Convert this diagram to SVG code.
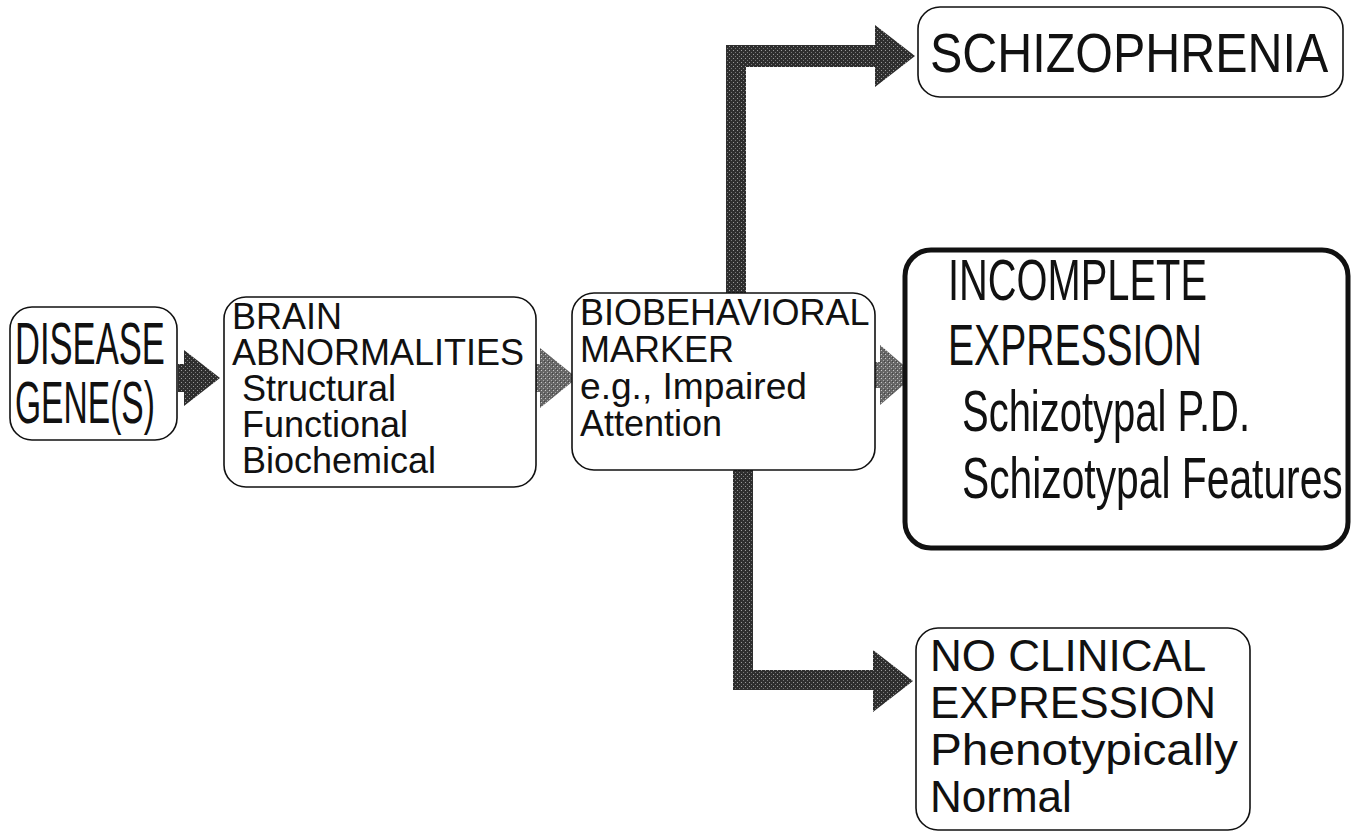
<svg xmlns="http://www.w3.org/2000/svg" width="1355" height="836" viewBox="0 0 1355 836">
  <style>
    .box { fill: #ffffff; stroke: #111; stroke-width: 1.6; }
    .thick { fill: #ffffff; stroke: #111; stroke-width: 5; }
    .t { font-family: "Liberation Sans", Arial, sans-serif; fill: #111; }
    .dark { fill: url(#ht); }
    .light { fill: url(#htl); }
  </style>
  <defs>
    <pattern id="ht" width="4" height="4" patternUnits="userSpaceOnUse">
      <rect width="4" height="4" fill="#2e2e2e"/>
      <rect x="1" y="2" width="1" height="1" fill="#9a9a9a"/>
      <rect x="3" y="0" width="1" height="1" fill="#777"/>
    </pattern>
    <pattern id="htl" width="4" height="4" patternUnits="userSpaceOnUse">
      <rect width="4" height="4" fill="#666"/>
      <rect x="1" y="2" width="1" height="1" fill="#c8c8c8"/>
      <rect x="3" y="0" width="1" height="1" fill="#aaa"/>
      <rect x="0" y="1" width="1" height="1" fill="#444"/>
    </pattern>
  </defs>

  <g id="connectors">
    <!-- disease -> brain -->
    <path class="dark" d="M178,364 H184 V350 L220,378 L184,406 V392 H178 Z"/>
    <!-- brain -> biobehavioral -->
    <path class="light" d="M530,364 H540 V348 L577,378 L540,408 V392 H530 Z"/>
    <!-- biobehavioral -> schizophrenia -->
    <path class="dark" d="M726,293 V45 H875 V25 L915,56 L875,87 V67 H746 V293 Z"/>
    <!-- biobehavioral -> incomplete -->
    <path class="light" d="M870,362 H880 V345 L915,375 L880,405 V388 H870 Z"/>
    <!-- biobehavioral -> no clinical -->
    <path class="dark" d="M733,470 V690 H873 V712 L913,681 L873,650 V670 H753 V470 Z"/>
  </g>

  <g id="disease-genes">
    <rect class="box" x="10" y="307" width="167" height="133" rx="22"/>
    <text class="t" font-size="59" transform="translate(15,364) scale(0.586,1)">DISEASE</text>
    <text class="t" font-size="59" transform="translate(15,423) scale(0.569,1)">GENE(S)</text>
  </g>

  <g id="brain-abnormalities">
    <rect class="box" x="224" y="297" width="312" height="190" rx="22"/>
    <text class="t" font-size="36">
      <tspan x="232" y="329">BRAIN</tspan>
      <tspan x="232" y="365">ABNORMALITIES</tspan>
      <tspan x="242" y="401">Structural</tspan>
      <tspan x="242" y="437">Functional</tspan>
      <tspan x="242" y="473">Biochemical</tspan>
    </text>
  </g>

  <g id="biobehavioral-marker">
    <rect class="box" x="572" y="293" width="303" height="177" rx="22"/>
    <text class="t" font-size="36">
      <tspan x="580" y="325">BIOBEHAVIORAL</tspan>
      <tspan x="580" y="362">MARKER</tspan>
      <tspan x="580" y="399" textLength="227" lengthAdjust="spacingAndGlyphs">e.g., Impaired</tspan>
      <tspan x="580" y="436">Attention</tspan>
    </text>
  </g>

  <g id="schizophrenia">
    <rect class="box" x="918" y="7" width="425" height="90" rx="22"/>
    <text class="t" font-size="56" transform="translate(930,72) scale(0.865,1)">SCHIZOPHRENIA</text>
  </g>

  <g id="incomplete-expression">
    <rect class="thick" x="905" y="250" width="443" height="298" rx="26"/>
    <text class="t" font-size="58" transform="translate(948,300) scale(0.687,1)">INCOMPLETE</text>
    <text class="t" font-size="58" transform="translate(948,365) scale(0.674,1)">EXPRESSION</text>
    <text class="t" font-size="58" transform="translate(962,431) scale(0.689,1)">Schizotypal P.D.</text>
    <text class="t" font-size="58" transform="translate(962,498) scale(0.703,1)">Schizotypal Features</text>
  </g>

  <g id="no-clinical-expression">
    <rect class="box" x="916" y="628" width="334" height="202" rx="22"/>
    <text class="t" font-size="44">
      <tspan x="930" y="671">NO CLINICAL</tspan>
      <tspan x="930" y="718">EXPRESSION</tspan>
      <tspan x="930" y="765" textLength="308" lengthAdjust="spacingAndGlyphs">Phenotypically</tspan>
      <tspan x="930" y="812">Normal</tspan>
    </text>
  </g>
</svg>
